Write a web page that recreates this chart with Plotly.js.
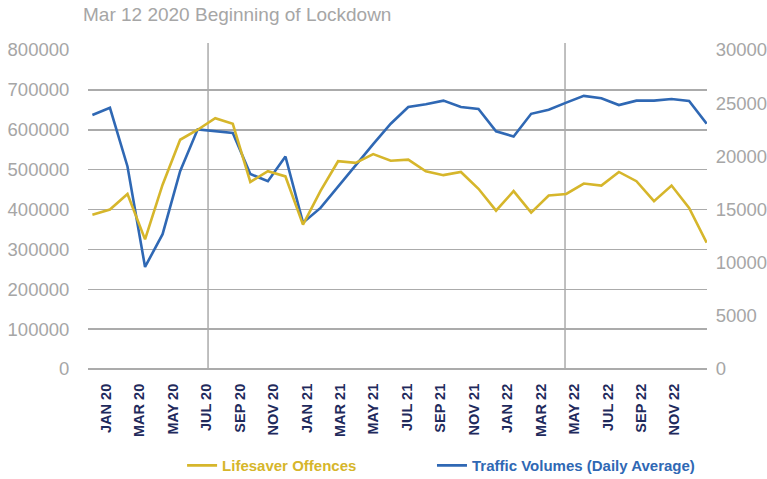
<!DOCTYPE html>
<html>
<head>
<meta charset="utf-8">
<script src="https://cdn.plot.ly/plotly-3.0.1.min.js"></script>
<style>html,body{margin:0;padding:0;background:#fff;}#chart{width:767px;height:479px;}</style>
</head>
<body>
<div id="chart"></div>
<script>
// ---- data ----
const months = [
  'JAN 20','FEB 20','MAR 20','APR 20','MAY 20','JUN 20','JUL 20','AUG 20','SEP 20','OCT 20','NOV 20','DEC 20',
  'JAN 21','FEB 21','MAR 21','APR 21','MAY 21','JUN 21','JUL 21','AUG 21','SEP 21','OCT 21','NOV 21','DEC 21',
  'JAN 22','FEB 22','MAR 22','APR 22','MAY 22','JUN 22','JUL 22','AUG 22','SEP 22','OCT 22','NOV 22','DEC 22'
];
const tickLabels = ['JAN 20','MAR 20','MAY 20','JUL 20','SEP 20','NOV 20',
  'JAN 21','MAR 21','MAY 21','JUL 21','SEP 21','NOV 21',
  'JAN 22','MAR 22','MAY 22','JUL 22','SEP 22','NOV 22'];
const trafficVolumes = [
  637000,655000,508000,256000,338000,496000,601000,597000,592000,489000,471000,533000,
  367000,404000,458000,512000,564000,615000,657000,664000,673000,657000,652000,596000,
  583000,640000,650000,668000,685000,679000,662000,673000,673000,677000,672000,615000
];
const lifesaverOffences = [
  14510,15000,16460,12190,17330,21560,22500,23590,23060,17590,18600,18110,
  13580,16760,19540,19390,20210,19580,19690,18600,18230,18530,16950,14890,
  16730,14700,16310,16460,17440,17250,18530,17660,15790,17250,15150,11890
];
const seriesNames = ['Lifesaver Offences', 'Traffic Volumes (Daily Average)'];
const noteText = 'Mar 12 2020 Beginning of Lockdown';

// ---- styles / positions ----
const BLUE = '#2f68b4', YELLOW = '#d6b62b', GRID = '#ababab', GRAY_TXT = '#a6a6a6', NAVY = '#1f2a5c';
const SANS = '"Liberation Sans", Arial, Helvetica, sans-serif';
const markerLines = [6.59, 26.93];
const legendFont = {family: SANS, size: 15, weight: 'bold'};

const traces = [
  { // invisible carrier for the label axis
    x: months, y: trafficVolumes, xaxis: 'x2', yaxis: 'y', type: 'scatter', mode: 'lines',
    line: {width: 0}, opacity: 0, showlegend: false, hoverinfo: 'skip'
  },
  {
    x: months, y: trafficVolumes, xaxis: 'x', yaxis: 'y', type: 'scatter', mode: 'lines',
    name: '<span style="color:' + BLUE + '">' + seriesNames[1] + '</span>',
    line: {color: BLUE, width: 2.6}, legend: 'legend2'
  },
  {
    x: months, y: lifesaverOffences, xaxis: 'x', yaxis: 'y2', type: 'scatter', mode: 'lines',
    name: '<span style="color:' + YELLOW + '">' + seriesNames[0] + '</span>',
    line: {color: YELLOW, width: 2.6}, legend: 'legend'
  }
];

const layout = {
  width: 767, height: 479,
  margin: {l: 88, r: 60, t: 50, b: 110, autoexpand: false},
  paper_bgcolor: '#fff', plot_bgcolor: '#fff',
  showlegend: true,
  xaxis: {
    type: 'category', range: [-0.25, 35.02], showticklabels: false,
    showgrid: false, zeroline: false, showline: false, ticks: ''
  },
  xaxis2: {
    type: 'category', overlaying: 'x', anchor: 'y', side: 'bottom',
    range: [-1.094, 35.93], tickmode: 'array', tickvals: tickLabels, ticktext: tickLabels,
    tickangle: -90, ticks: 'outside', ticklen: 8, tickcolor: 'rgba(0,0,0,0)',
    tickfont: {family: SANS, size: 14.5, color: NAVY, weight: 'bold'},
    showgrid: false, zeroline: false, showline: false
  },
  yaxis: {
    range: [0, 800000], dtick: 100000, tickformat: 'd',
    showgrid: true, gridcolor: GRID, gridwidth: 1.5,
    zeroline: true, zerolinecolor: GRID, zerolinewidth: 1.5, showline: false,
    ticks: 'outside', ticklen: 14, tickcolor: 'rgba(0,0,0,0)',
    tickfont: {family: SANS, size: 18.5, color: GRAY_TXT}
  },
  yaxis2: {
    overlaying: 'y', side: 'right', range: [0, 30000], dtick: 5000, tickformat: 'd',
    showgrid: false, zeroline: false, showline: false,
    ticks: 'outside', ticklen: 4, tickcolor: 'rgba(0,0,0,0)',
    tickfont: {family: SANS, size: 18.5, color: GRAY_TXT}
  },
  legend: {
    orientation: 'h', x: 0.152, xanchor: 'left', y: -0.303, yanchor: 'middle',
    bgcolor: 'rgba(0,0,0,0)', font: legendFont
  },
  legend2: {
    orientation: 'h', x: 0.5557, xanchor: 'left', y: -0.303, yanchor: 'middle',
    bgcolor: 'rgba(0,0,0,0)', font: legendFont
  },
  shapes: markerLines.map(v => ({
    type: 'line', xref: 'x', yref: 'paper', x0: v, x1: v, y0: 0, y1: 1.022,
    line: {color: GRID, width: 1.5}, layer: 'below'
  })),
  annotations: [{
    xref: 'paper', yref: 'paper', x: -0.0113, y: 1.11, xanchor: 'left', yanchor: 'middle',
    text: noteText, showarrow: false, font: {family: SANS, size: 19, color: GRAY_TXT}
  }]
};

Plotly.newPlot('chart', traces, layout, {displayModeBar: false, staticPlot: true});
</script>
</body>
</html>
